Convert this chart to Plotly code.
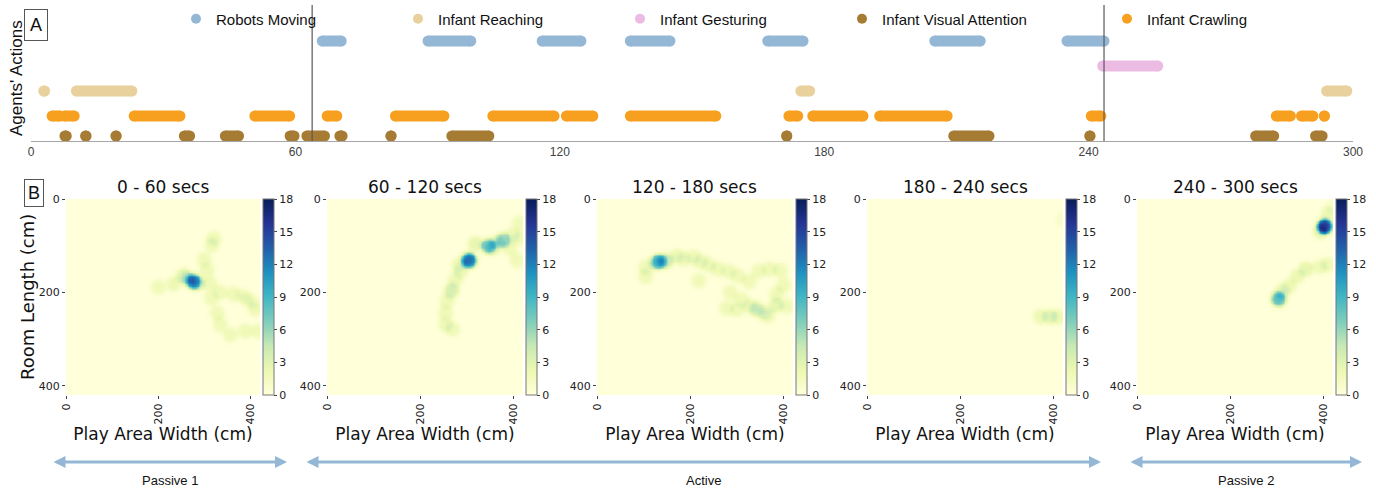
import numpy as np
import plotly.graph_objects as go

W, H = 1376, 490

# ---------------- Panel A data: action intervals (seconds) ----------------
robots_start = [66.1, 90.1, 116.0, 136.0, 167.2, 205.1, 235.1]
robots_end = [70.4, 99.8, 124.8, 145.0, 175.2, 215.4, 243.5]
gesture_start = [243.2]
gesture_end = [255.7]
reach_start = [2.9, 10.3, 174.7, 294.0]
reach_end = [3.1, 22.9, 176.7, 298.6]
crawl_start = [4.8, 7.6, 23.4, 50.8, 67.2, 82.7, 104.8, 121.5, 136.0, 172.0, 177.4, 192.6, 240.6, 282.6, 288.3, 293.5]
crawl_end = [6.6, 9.8, 33.8, 58.7, 69.4, 93.7, 118.7, 127.5, 155.4, 174.0, 188.8, 207.9, 242.8, 285.8, 290.9, 293.5]
attn_start = [7.7, 12.4, 19.3, 34.8, 44.1, 58.8, 62.6, 70.1, 81.7, 95.5, 171.5, 209.4, 240.3, 277.9, 291.5]
attn_end = [8.0, 12.5, 19.3, 36.0, 47.1, 59.7, 66.6, 70.6, 81.7, 103.9, 171.5, 217.4, 240.3, 282.0, 293.0]
phase_bounds = [63.8, 243.5]
time_ticks = [0, 60, 120, 180, 240, 300]

# ---------------- Panel B data: infant positions (cm) and dwell weight ----------------
p1_x = [319, 315, 298, 304, 253, 262, 275, 285, 232, 199, 311, 313, 333, 362, 391, 409, 326, 333, 355, 387, 416, 380, 405]
p1_y = [83, 98, 129, 152, 163, 170, 176, 180, 181, 188, 181, 212, 199, 203, 214, 235, 243, 268, 290, 282, 282, 205, 220]
p1_w = [1.8, 1.8, 1.8, 1.8, 2.5, 2.5, 10, 2.5, 2, 1.8, 1.8, 1.8, 1.8, 1.8, 1.8, 1.8, 1.8, 1.8, 1.8, 1.8, 1.8, 1, 1]

p2_x = [304, 300, 317, 345, 355, 377, 365, 397, 411, 413, 391, 406, 281, 285, 274, 265, 268, 256, 253, 253, 268]
p2_y = [131, 128, 95, 100, 104, 87, 92, 76, 51, 83, 105, 130, 140, 154, 172, 197, 190, 218, 243, 268, 278]
p2_w = [11, 1.8, 2.5, 7, 2, 5, 2, 1.8, 1.8, 1.8, 1.8, 1.8, 1.8, 1.8, 1.8, 2.5, 1, 1.8, 1.8, 1.8, 1.8]

p3_x = [132, 125, 145, 103, 103, 149, 171, 185, 206, 221, 238, 258, 281, 301, 325, 217, 285, 309, 277, 299, 327, 341, 356, 366, 345, 369, 392, 399, 384, 383, 406]
p3_y = [133, 135, 133, 145, 165, 130, 121, 128, 124, 133, 140, 149, 154, 164, 176, 174, 199, 215, 233, 236, 229, 235, 243, 249, 154, 149, 152, 183, 202, 226, 229]
p3_w = [7, 2.5, 2, 1.8, 1.8, 1.8, 1.8, 1.8, 1.8, 1.8, 1.8, 1.8, 1.8, 1.8, 1.8, 1.8, 1.8, 1.8, 1.8, 1.8, 1.8, 3, 1.8, 1.8, 1.8, 1.8, 1.8, 1.8, 1.8, 2.5, 1.8]

p4_x = [370, 391, 409, 420]
p4_y = [251, 251, 251, 43]
p4_w = [2, 2.5, 2, 1]

p5_x = [401, 391, 409, 420, 409, 391, 361, 342, 324, 310, 303, 298]
p5_y = [58, 69, 30, 16, 140, 144, 149, 165, 186, 197, 214, 210]
p5_w = [15, 2, 2, 1, 1.8, 1.8, 2.5, 2, 2, 2, 7, 1]

panel_titles = ["0 - 60 secs", "60 - 120 secs", "120 - 180 secs", "180 - 240 secs", "240 - 300 secs"]
heat_ticks = [0, 200, 400]
cbar_ticks = [0, 3, 6, 9, 12, 15, 18]
phase_labels = ["Passive 1", "Active", "Passive 2"]

ylgnbu = ["#ffffd9", "#edf8b1", "#c7e9b4", "#7fcdbb", "#41b6c4",
          "#1d91c0", "#225ea8", "#253494", "#081d58"]


def px_x(p):
    return p / W


def px_y(p):
    return 1 - p / H


fig = go.Figure()

# ---------------- Panel A traces ----------------
rows = [
    ("Robots Moving", robots_start, robots_end, 4.0, "#95b7d6", "legend"),
    ("Infant Reaching", reach_start, reach_end, 2.0, "#e8d19c", "legend"),
    ("Infant Gesturing", gesture_start, gesture_end, 3.0, "#ecbbe3", "legend"),
    ("Infant Visual Attention", attn_start, attn_end, 0.2, "#a67b33", "legend"),
    ("Infant Crawling", crawl_start, crawl_end, 1.0, "#f7a020", "legend2"),
]
for name, st, en, lvl, col, lg in rows:
    xs, ys = [], []
    for s, e in zip(st, en):
        xs += [s, e, None]
        ys += [lvl, lvl, None]
    fig.add_trace(go.Scatter(x=xs, y=ys, mode="lines+markers", showlegend=False,
                             line=dict(color=col, width=11),
                             marker=dict(color=col, size=11),
                             cliponaxis=False, hoverinfo="skip",
                             xaxis="x", yaxis="y"))
for name, st, en, lvl, col, lg in rows:
    fig.add_trace(go.Scatter(x=[None], y=[None], mode="markers", name=name,
                             marker=dict(color=col, size=10), legend=lg,
                             xaxis="x", yaxis="y"))

# ---------------- Panel B heatmaps ----------------
grid = np.arange(0, 421, 3.0)
GX, GY = np.meshgrid(grid, grid)


def density(xs, ys, ws, radius=15.5, soft=2.5):
    z = np.zeros_like(GX)
    for x, y, w in zip(xs, ys, ws):
        d = np.hypot(GX - x, GY - y)
        z += w / (1 + np.exp((d - radius) / soft))
    return z


panels = [(p1_x, p1_y, p1_w), (p2_x, p2_y, p2_w), (p3_x, p3_y, p3_w),
          (p4_x, p4_y, p4_w), (p5_x, p5_y, p5_w)]
heat_x0 = [66, 327, 597, 867, 1137]
heat_w = [194, 196, 196, 196, 196]
cb_x = [263, 526, 796, 1066, 1336]
hy0, hy1 = 199, 395

layout_axes = {}
for i, (xs, ys, ws) in enumerate(panels):
    k = i + 2
    z = density(xs, ys, ws)
    fig.add_trace(go.Heatmap(
        x=grid, y=grid, z=z, zmin=0, zmax=18, colorscale=ylgnbu, zsmooth="best",
        xaxis=f"x{k}", yaxis=f"y{k}", hoverinfo="skip",
        colorbar=dict(thickness=11, thicknessmode="pixels",
                      len=(hy1 - hy0) / H, lenmode="fraction",
                      x=px_x(cb_x[i]), xanchor="left", xpad=0,
                      y=px_y((hy0 + hy1) / 2), yanchor="middle", ypad=0,
                      tickvals=cbar_ticks, ticks="outside", ticklen=3,
                      tickcolor="#444", outlinecolor="#777", outlinewidth=1,
                      tickfont=dict(family="DejaVu Sans", size=11, color="#222")),
    ))
    x0 = heat_x0[i]
    layout_axes[f"xaxis{k}"] = dict(
        domain=[px_x(x0), px_x(x0 + heat_w[i])], anchor=f"y{k}",
        range=[0, 420], tickvals=heat_ticks, tickangle=-90, automargin=False,
        ticks="outside", ticklen=3, tickcolor="#444", showgrid=False, zeroline=False,
        tickfont=dict(family="DejaVu Sans", size=11, color="#222"),
        title=dict(text="Play Area Width (cm)", standoff=0,
                   font=dict(family="DejaVu Sans", size=17, color="#111")))
    layout_axes[f"yaxis{k}"] = dict(
        domain=[px_y(hy1), px_y(hy0)], anchor=f"x{k}", automargin=False,
        range=[420, 0], tickvals=heat_ticks,
        ticks="outside", ticklen=3, tickcolor="#444", showgrid=False, zeroline=False,
        tickfont=dict(family="DejaVu Sans", size=11, color="#222"))

annotations = []
for i, t in enumerate(panel_titles):
    cx = heat_x0[i] + heat_w[i] / 2
    annotations.append(dict(text=t, x=px_x(cx), y=px_y(187), xref="paper", yref="paper",
                            showarrow=False, xanchor="center", yanchor="middle",
                            font=dict(family="DejaVu Sans", size=17, color="#111")))

annotations.append(dict(text="Room Length (cm)", x=px_x(27), y=px_y(297), xref="paper", yref="paper",
                        showarrow=False, textangle=-90, xanchor="center", yanchor="middle",
                        font=dict(family="DejaVu Sans", size=18, color="#111")))
annotations.append(dict(text="Agents' Actions", x=px_x(16), y=px_y(78), xref="paper", yref="paper",
                        showarrow=False, textangle=-90, xanchor="center", yanchor="middle",
                        font=dict(family="Liberation Sans", size=17, color="#111")))
annotations.append(dict(text="A", x=px_x(36), y=px_y(25), xref="paper", yref="paper",
                        showarrow=False, xanchor="center", yanchor="middle",
                        bordercolor="#555", borderwidth=1, borderpad=5, bgcolor="white",
                        font=dict(family="Liberation Sans", size=18, color="#111")))
annotations.append(dict(text="B", x=px_x(34), y=px_y(193), xref="paper", yref="paper",
                        showarrow=False, xanchor="center", yanchor="middle",
                        bordercolor="#555", borderwidth=1, borderpad=3, bgcolor="white",
                        font=dict(family="Liberation Sans", size=18, color="#111")))

# phase arrows
arrow_spans = [(52, 287), (305, 1101), (1129, 1362)]
for (a, b), lab in zip(arrow_spans, phase_labels):
    annotations.append(dict(text="", x=px_x(b), y=px_y(462), xref="paper", yref="paper",
                            ax=a - b, ay=0, axref="pixel", ayref="pixel",
                            showarrow=True, arrowhead=2, arrowside="end+start",
                            arrowsize=0.8, arrowwidth=3, arrowcolor="#95b7d6"))
    annotations.append(dict(text=lab, x=px_x((a + b) / 2), y=px_y(480), xref="paper", yref="paper",
                            showarrow=False, xanchor="center", yanchor="middle",
                            font=dict(family="Liberation Sans Narrow, Liberation Sans", size=13, color="#111")))

shapes = []
for b in phase_bounds:
    shapes.append(dict(type="line", xref="x", yref="y domain", x0=b, x1=b, y0=0, y1=1,
                       line=dict(color="#595959", width=1.2)))

fig.update_layout(
    width=W, height=H, margin=dict(l=0, r=0, t=0, b=0, autoexpand=False),
    paper_bgcolor="white", plot_bgcolor="white",
    xaxis=dict(domain=[px_x(31), px_x(1353)], range=[0, 300], tickvals=time_ticks,
               showgrid=False, zeroline=False, showline=True, linecolor="#a6a6a6",
               linewidth=1, ticks="", anchor="y", automargin=False,
               tickfont=dict(family="Liberation Sans", size=12, color="#404040")),
    yaxis=dict(domain=[px_y(141), px_y(5)], range=[0, 5.44], showticklabels=False,
               showgrid=False, zeroline=False, showline=False, anchor="x", automargin=False),
    legend=dict(orientation="h", x=px_x(176), xanchor="left", y=px_y(19), yanchor="middle",
                entrywidth=177, entrywidthmode="pixels", bgcolor="rgba(0,0,0,0)",
                font=dict(family="Liberation Sans", size=15, color="#111")),
    legend2=dict(orientation="h", x=px_x(1107), xanchor="left", y=px_y(19), yanchor="middle",
                 bgcolor="rgba(0,0,0,0)",
                 font=dict(family="Liberation Sans", size=15, color="#111")),
    annotations=annotations, shapes=shapes,
    **layout_axes,
)

fig.write_html("out.html", config={"displayModeBar": False},
               post_script="document.body.style.margin='0';document.body.style.overflow='hidden';")
